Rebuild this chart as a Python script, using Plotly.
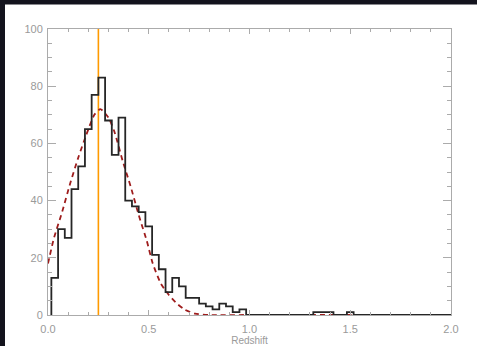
import plotly.graph_objects as go

# ---- data ----
bin_width = 1 / 30
first_bin_center = 1 / 30
counts = [13, 30, 27, 44, 52, 65, 77, 83, 68, 56,
          69, 40, 38, 36, 31, 21, 16, 8, 13, 10,
          6, 6, 4, 3, 2, 4, 3, 1, 2, 0,
          0, 0, 0, 0, 0, 0, 0, 0, 0, 1,
          1, 1, 0, 0, 1, 0, 0, 0, 0, 0,
          0, 0, 0, 0, 0, 0, 0, 0, 0, 0]

fit_z = [0.00, 0.03, 0.07, 0.11, 0.15, 0.19, 0.23, 0.26, 0.30, 0.33,
         0.37, 0.41, 0.45, 0.49, 0.52, 0.56, 0.60, 0.64, 0.68, 0.73,
         0.80, 1.00, 1.50, 2.00]
fit_n = [18, 27, 36, 46, 55, 63, 70, 72, 69, 64,
         54, 45, 35, 26, 18, 11, 7, 4, 1.8, 0.5,
         0, 0, 0, 0]

marker_z = 0.25
x_ticks = [0.0, 0.5, 1.0, 1.5, 2.0]
x_ticklabels = ["0.0", "0.5", "1.0", "1.5", "2.0"]
y_ticks = [0, 20, 40, 60, 80, 100]

# ---- build step outline ----
edges = [first_bin_center - bin_width / 2 + k * bin_width for k in range(len(counts) + 1)]
hx = [edges[0]] + edges
hy = [0] + counts + [counts[-1]]

fig = go.Figure()
fig.add_trace(go.Scatter(x=[marker_z, marker_z], y=[0, 100], mode="lines",
                         line=dict(color="#ff9a00", width=1.6), hoverinfo="skip"))
fig.add_trace(go.Scatter(x=fit_z, y=fit_n, mode="lines",
                         line=dict(color="#9e1c1c", width=1.8, dash="5px,4px", shape="spline", smoothing=0.6),
                         hoverinfo="skip"))
fig.add_trace(go.Scatter(x=hx, y=hy, mode="lines",
                         line=dict(color="#262626", width=1.8, shape="hv"), hoverinfo="skip"))

axis_common = dict(showgrid=False, zeroline=False, showline=True, linecolor="#ababab",
                   linewidth=1, mirror="allticks", ticks="inside", tickcolor="#ababab",
                   automargin=False,
                   tickfont=dict(family="Liberation Sans", size=11, color="#9a9a9a"))

fig.update_xaxes(range=[0, 2], tickvals=x_ticks, ticktext=x_ticklabels, ticklen=5,
                 ticklabelstandoff=4,
                 minor=dict(dtick=0.1, ticklen=3, ticks="inside", tickcolor="#ababab"),
                 title=dict(text="Redshift", font=dict(family="Liberation Sans", size=10, color="#9a9a9a"),
                            standoff=3),
                 **axis_common)
fig.update_yaxes(range=[0, 100], tickvals=y_ticks, ticklen=8, ticklabelstandoff=2,
                 minor=dict(dtick=5, ticklen=4, ticks="inside", tickcolor="#ababab"),
                 **axis_common)

L, R, T, B = 48, 26, 29, 31
W, H = 477 - L - R, 346 - T - B
dark = "#13131d"
shapes = [
    dict(type="rect", xref="paper", yref="paper", layer="above",
         x0=-L / W, x1=(477 - L) / W, y0=(H + T - 4.5) / H, y1=(H + T) / H,
         fillcolor=dark, line=dict(width=0)),
    dict(type="rect", xref="paper", yref="paper", layer="above",
         x0=-L / W, x1=(5 - L) / W, y0=-B / H, y1=(H + T) / H,
         fillcolor=dark, line=dict(width=0)),
]

fig.update_layout(width=477, height=346, margin=dict(l=L, r=R, t=T, b=B),
                  paper_bgcolor="white", plot_bgcolor="white", showlegend=False,
                  shapes=shapes)

fig.write_html("out.html")
